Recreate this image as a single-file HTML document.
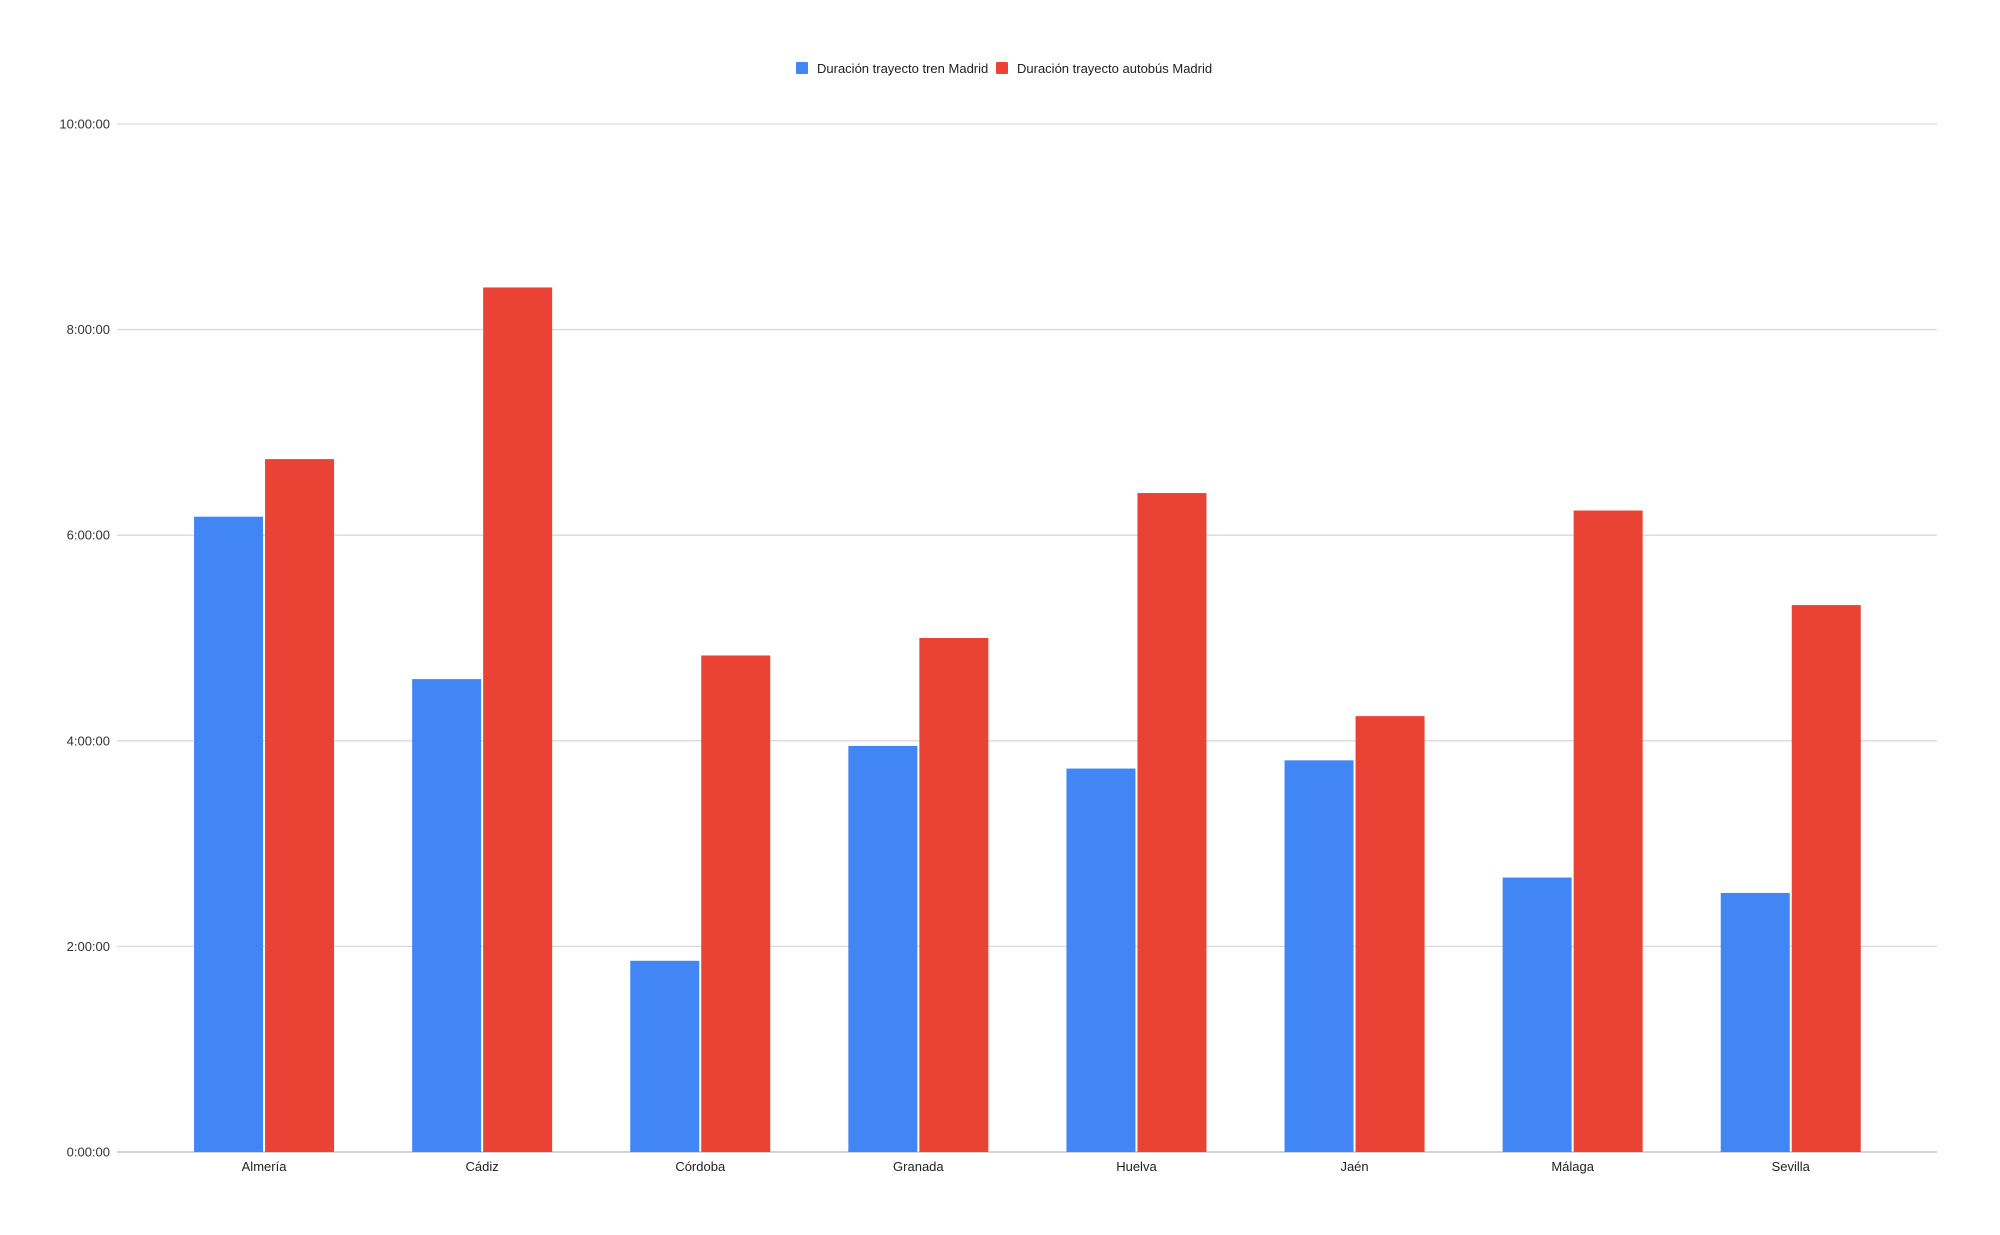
<!DOCTYPE html>
<html><head><meta charset="utf-8"><style>
html,body{margin:0;padding:0;background:#fff;}
svg{display:block;font-family:"Liberation Sans",Arial,sans-serif;}
</style></head><body>
<svg id="chart" width="2000" height="1235" viewBox="0 0 2000 1235" xmlns="http://www.w3.org/2000/svg">
<rect width="2000" height="1235" fill="#fff"/>
<g id="legend">
  <g>
    <rect x="796" y="62" width="12" height="12" rx="1" fill="#4285f4"/>
    <text x="817" y="73" font-size="13" fill="#222">Duración trayecto tren Madrid</text>
  </g>
  <g>
    <rect x="996" y="62" width="12" height="12" rx="1" fill="#ea4335"/>
    <text x="1017" y="73" font-size="13" fill="#222">Duración trayecto autobús Madrid</text>
  </g>
</g>
<g id="grid"></g>
<g id="bars"></g>
<g id="xlabels"></g>
</svg>
<script>
const categories = ["Almería","Cádiz","Córdoba","Granada","Huelva","Jaén","Málaga","Sevilla"];
const trenHours = [6.18,4.60,1.86,3.95,3.73,3.81,2.67,2.52];
const autobusHours = [6.74,8.41,4.83,5.00,6.41,4.24,6.24,5.32];
const tickValues = [0,2,4,6,8,10];
const tickLabels = ["0:00:00","2:00:00","4:00:00","6:00:00","8:00:00","10:00:00"];

const NS="http://www.w3.org/2000/svg";
const y0=1152, y10=124, gridL=117, gridR=1937, bandL=155, bandW=218.1, barW=69, gap=2;
function yScale(h){return y0-(y0-y10)*h/10;}
function xCenter(i){return bandL+bandW*(i+0.5);}
function mk(tag,attrs,parent){const e=document.createElementNS(NS,tag);for(const k in attrs)e.setAttribute(k,attrs[k]);parent.appendChild(e);return e;}

const grid=document.getElementById('grid');
tickValues.forEach((v,i)=>{
  const y=yScale(v);
  const l=mk('line',{x1:gridL,x2:gridR,y1:y,y2:y,stroke:v===0?'#bbb':'#d9d9d9','stroke-width':1.3},grid);
  
  
  const t=mk('text',{x:110,y:y+4.5,'font-size':13,'text-anchor':'end',fill:'#333'},grid);
  
  
  t.textContent=tickLabels[i];
});

const bars=document.getElementById('bars');
const xl=document.getElementById('xlabels');
categories.forEach((c,i)=>{
  const cx=xCenter(i);
  const yb=yScale(trenHours[i]);
  const b1=mk('rect',{x:cx-gap/2-barW,y:yb,width:barW,height:y0-yb,fill:'#4285f4'},bars);
  
  
  const yr=yScale(autobusHours[i]);
  const b2=mk('rect',{x:cx+gap/2,y:yr,width:barW,height:y0-yr,fill:'#ea4335'},bars);
  
  
  const t=mk('text',{x:cx,y:1171,'font-size':13,'text-anchor':'middle',fill:'#222'},xl);
  
  
  t.textContent=c;
});
</script>
</body></html>
